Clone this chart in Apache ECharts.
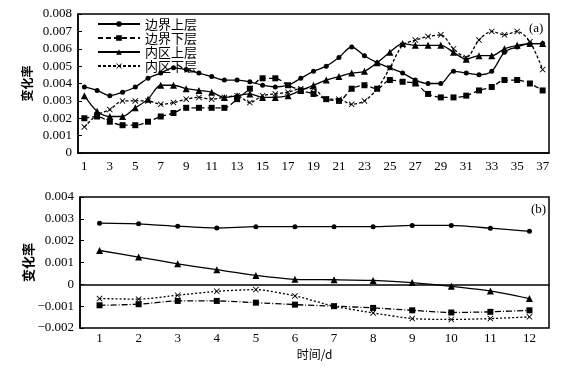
<!DOCTYPE html>
<html lang="zh">

<head>
  <meta charset="UTF-8">
  <title>变化率</title>
  <script src="https://cdn.jsdelivr.net/npm/echarts@6/dist/echarts.min.js"></script>
  <style>
    body { margin: 0; background: #fff; }
  </style>
</head>

<body>
  <div id="main" style="width: 565px;height:369px"></div>
  <script>
    var myChart = echarts.init(document.getElementById('main'));

    // 图(a) 横轴 1~37 d
    var daysA = Array.from({ length: 37 }, function (_, i) { return String(i + 1) });
    // 图(b) 横轴 1~12 d
    var daysB = Array.from({ length: 12 }, function (_, i) { return String(i + 1) });

    var names = ['边界上层', '边界下层', '内区上层', '内区下层'];

    // (a) 四条曲线
    var aBorderUp = [0.0038, 0.0036, 0.0033, 0.0035, 0.0038, 0.0043, 0.0046, 0.0049, 0.0048, 0.0046,
      0.0044, 0.0042, 0.0042, 0.0041, 0.0039, 0.0038, 0.0039, 0.0043, 0.0047, 0.0050,
      0.0055, 0.0061, 0.0056, 0.0052, 0.0049, 0.0046, 0.0042, 0.0040, 0.0040, 0.0047,
      0.0046, 0.0045, 0.0047, 0.0058, 0.0061, 0.0063, 0.0063];
    var aBorderLow = [0.0020, 0.0021, 0.0018, 0.0016, 0.0016, 0.0018, 0.0021, 0.0023, 0.0026, 0.0026,
      0.0026, 0.0026, 0.0031, 0.0037, 0.0043, 0.0043, 0.0039, 0.0036, 0.0034, 0.0031,
      0.0030, 0.0037, 0.0039, 0.0037, 0.0042, 0.0041, 0.0040, 0.0034, 0.0032, 0.0032,
      0.0033, 0.0036, 0.0038, 0.0042, 0.0042, 0.0040, 0.0036];
    var aInnerUp = [0.0033, 0.0024, 0.0021, 0.0021, 0.0026, 0.0031, 0.0039, 0.0039, 0.0037, 0.0036,
      0.0035, 0.0032, 0.0033, 0.0034, 0.0032, 0.0032, 0.0033, 0.0036, 0.0039, 0.0042,
      0.0044, 0.0046, 0.0047, 0.0052, 0.0058, 0.0063, 0.0062, 0.0062, 0.0062, 0.0058,
      0.0054, 0.0056, 0.0056, 0.0060, 0.0062, 0.0063, 0.0063];
    var aInnerLow = [0.0015, 0.0022, 0.0025, 0.0030, 0.0030, 0.0030, 0.0028, 0.0029, 0.0031, 0.0032,
      0.0031, 0.0032, 0.0033, 0.0029, 0.0033, 0.0034, 0.0035, 0.0037, 0.0037, 0.0031,
      0.0031, 0.0028, 0.0030, 0.0037, 0.0049, 0.0062, 0.0065, 0.0067, 0.0068, 0.0060,
      0.0055, 0.0065, 0.0070, 0.0068, 0.0070, 0.0064, 0.0048];

    // (b) 四条曲线
    var bBorderUp = [0.0028, 0.00277, 0.00266, 0.00258, 0.00264, 0.00264, 0.00264, 0.00264, 0.0027, 0.0027, 0.00257, 0.00243];
    var bBorderLow = [-0.00096, -0.00091, -0.00076, -0.00076, -0.00084, -0.00093, -0.001, -0.00108, -0.00119, -0.00129, -0.00126, -0.00119];
    var bInnerUp = [0.00155, 0.00125, 0.00094, 0.00067, 0.00041, 0.00023, 0.00021, 0.00018, 0.00008, -0.00009, -0.0003, -0.00065];
    var bInnerLow = [-0.00065, -0.00068, -0.0005, -0.00032, -0.00024, -0.00053, -0.001, -0.00131, -0.00157, -0.00161, -0.00157, -0.00149];

    var serif = 'Liberation Serif';
    var cjk = 'Noto Sans CJK SC';
    // 叉号标记
    var crossPath = 'path://M0,1L1,0L5,4L9,0L10,1L6,5L10,9L9,10L5,6L1,10L0,9L4,5Z';

    var styles = [
      { symbol: 'circle', symbolSize: 5, type: 'solid' },
      { symbol: 'rect', symbolSize: 6, type: [5, 3] },
      { symbol: 'triangle', symbolSize: 7, type: 'solid' },
      { symbol: crossPath, symbolSize: 6, type: [3, 2] }
    ];

    function fmt(v) {
      if (Math.abs(v) < 1e-9) return '0';
      return (v < 0 ? '\u2212' : '') + Math.abs(v).toFixed(3);
    }

    function mkSeries(name, data, st, idx, smooth, dash) {
      return {
        name: name,
        type: 'line',
        xAxisIndex: idx,
        yAxisIndex: idx,
        data: data,
        smooth: smooth,
        symbol: st.symbol,
        symbolSize: st.symbolSize,
        showSymbol: true,
        itemStyle: { color: '#000' },
        lineStyle: { color: '#000', width: 1.3, type: dash || st.type },
        emphasis: { disabled: true }
      }
    }

    var axisX = function (idx, data, labelInterval, margin) {
      return {
        type: 'category',
        gridIndex: idx,
        data: data,
        boundaryGap: true,
        axisLine: { lineStyle: { color: '#000', width: 1.5 } },
        axisTick: { inside: true, alignWithLabel: true, interval: 0, length: 4, lineStyle: { color: '#000' } },
        axisLabel: { interval: labelInterval, color: '#000', fontFamily: serif, fontSize: 13, margin: margin },
        splitLine: { show: false }
      }
    };

    var axisY = function (idx, min, max) {
      return {
        type: 'value',
        gridIndex: idx,
        min: min,
        max: max,
        interval: 0.001,
        name: '变化率',
        nameLocation: 'middle',
        nameRotate: 90,
        nameGap: 45,
        nameMoveOverlap: false,
        nameTextStyle: { color: '#000', fontFamily: cjk, fontSize: idx === 0 ? 12 : 13, fontWeight: 'bold' },
        axisLine: { show: true, lineStyle: { color: '#000', width: 1.5 } },
        axisTick: { show: true, inside: true, length: 4, lineStyle: { color: '#000' } },
        axisLabel: { color: '#000', fontFamily: serif, fontSize: 13, margin: 6, formatter: fmt },
        splitLine: { show: false }
      }
    };

    var xB = axisX(1, daysB, 0, 4);
    xB.name = '时间/d';
    xB.nameLocation = 'middle';
    xB.nameGap = 20;
    xB.nameMoveOverlap = false;
    xB.nameTextStyle = { color: '#000', fontFamily: cjk, fontSize: 12 };

    var option = {
      backgroundColor: '#fff',
      animation: false,
      grid: [
        { left: 78, top: 14, width: 471, height: 139, show: true, borderColor: '#000', borderWidth: 1.5 },
        { left: 80, top: 197, width: 469, height: 131, show: true, borderColor: '#000', borderWidth: 1.5 }
      ],
      legend: {
        data: names,
        orient: 'vertical',
        left: 92,
        top: 12,
        itemWidth: 42,
        itemHeight: 7,
        itemGap: 0,
        textStyle: { color: '#000', fontFamily: cjk, fontSize: 13, lineHeight: 14 }
      },
      xAxis: [axisX(0, daysA, 1, 7), xB],
      yAxis: [axisY(0, 0, 0.008), axisY(1, -0.002, 0.004)],
      graphic: [
        { type: 'text', left: 529, top: 22, style: { text: '(a)', font: '13px "Liberation Serif"', fill: '#000' } },
        { type: 'text', left: 531, top: 203, style: { text: '(b)', font: '13px "Liberation Serif"', fill: '#000' } }
      ],
      series: [
        mkSeries(names[0], aBorderUp, styles[0], 0, 0.3),
        mkSeries(names[1], aBorderLow, styles[1], 0, 0.3),
        mkSeries(names[2], aInnerUp, styles[2], 0, 0.3),
        mkSeries(names[3], aInnerLow, styles[3], 0, 0.3),
        mkSeries(names[0], bBorderUp, styles[0], 1, 0.2),
        mkSeries(names[1], bBorderLow, styles[1], 1, 0.2, [6, 2, 1, 2]),
        mkSeries(names[2], bInnerUp, styles[2], 1, 0.2),
        mkSeries(names[3], bInnerLow, styles[3], 1, 0.2, [2, 2])
      ]
    };
    myChart.setOption(option);
  </script>
</body>

</html>
